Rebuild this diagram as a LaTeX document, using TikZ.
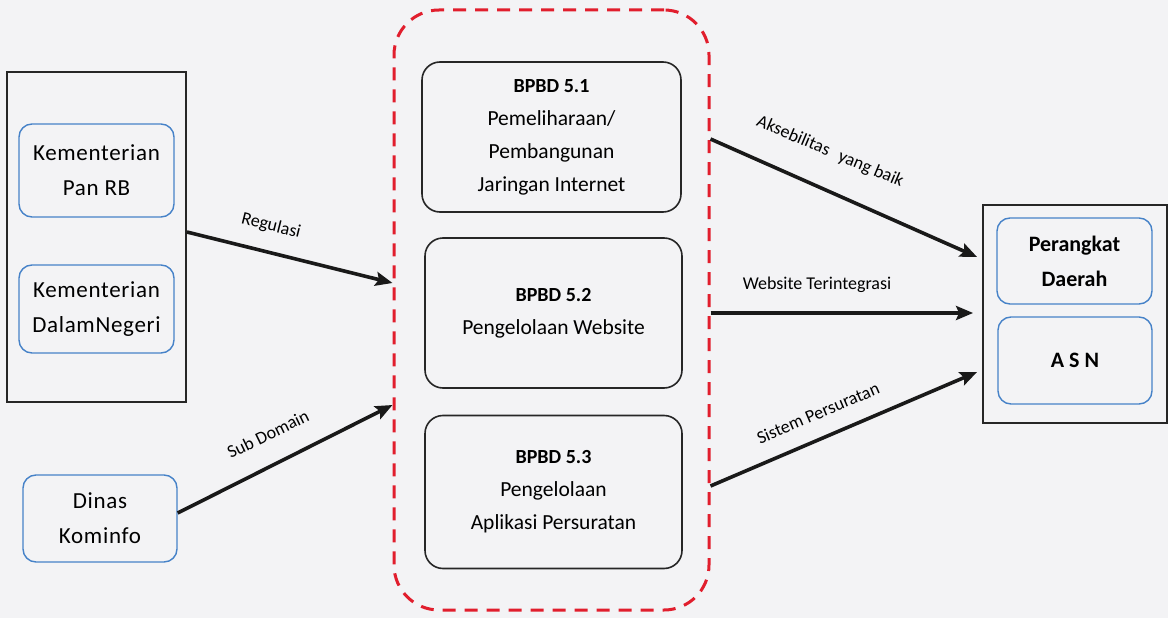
\documentclass[tikz,border=0pt]{standalone}
\usepackage{fontspec}
\setmainfont{Carlito}
\usetikzlibrary{arrows.meta}
\definecolor{bgc}{RGB}{243,243,245}
\definecolor{bluec}{RGB}{70,130,200}
\definecolor{redc}{RGB}{225,30,45}
\tikzset{
  outerbox/.style={draw=black!85,line width=1.8pt,rectangle},
  bluebox/.style={draw=bluec,line width=1.4pt,rounded corners=13pt,rectangle,align=center,
    font=\fontsize{23}{35}\selectfont\addfontfeature{LetterSpace=3}},
  bpbdbox/.style={draw=black!85,line width=1.6pt,rounded corners=18pt,rectangle,align=center,
    font=\fontsize{21.5}{33}\selectfont},
  groupbox/.style={draw=redc,line width=3pt,dash pattern=on 13pt off 9pt,rounded corners=45pt,rectangle},
  conn/.style={line width=3.6pt,black!90,-{Stealth[length=17pt,width=14pt,inset=3pt]}},
  lbl/.style={font=\fontsize{18}{20}\selectfont,inner sep=0pt}
}
\newcommand{\bhead}[1]{{\bfseries\fontsize{20}{33}\selectfont #1}}
\begin{document}
\begin{tikzpicture}[x=1pt,y=-1pt]
\fill[bgc] (0,0) rectangle (1168,618);
\useasboundingbox (0,0) rectangle (1168,618);

% left group
\node[outerbox,minimum width=179pt,minimum height=330pt] (L) at (96.5,237) {};
\node[bluebox,minimum width=155pt,minimum height=93pt] (K1) at (96.5,170.5) {Kementerian\\Pan RB};
\node[bluebox,minimum width=155pt,minimum height=88pt] (K2) at (96.5,309) {Kementerian\\DalamNegeri};
\node[bluebox,minimum width=154pt,minimum height=87pt] (D) at (100,518.5) {Dinas\\Kominfo};

% middle group
\node[groupbox,minimum width=315pt,minimum height=600pt] (G) at (551.5,310) {};
\node[bpbdbox,minimum width=259pt,minimum height=150pt] (B1) at (551.5,137) {\bhead{BPBD 5.1}\\Pemeliharaan/\\Pembangunan\\Jaringan Internet};
\node[bpbdbox,minimum width=257pt,minimum height=150pt] (B2) at (553.5,313) {\bhead{BPBD 5.2}\\Pengelolaan Website};
\node[bpbdbox,minimum width=257pt,minimum height=153pt,text depth=4pt] (B3) at (553.5,492) {\bhead{BPBD 5.3}\\Pengelolaan\\Aplikasi Persuratan};

% right group
\node[outerbox,minimum width=184pt,minimum height=218pt] (R) at (1075,314) {};
\node[bluebox,minimum width=155pt,minimum height=86pt,font=\bfseries\fontsize{22}{35}\selectfont] (PD) at (1074.5,261) {Perangkat\\Daerah};
\node[bluebox,minimum width=154pt,minimum height=87pt,font=\bfseries\fontsize{22}{35}\selectfont] (ASN) at (1075,360.5) {A S N};

% connector end points on node borders
\coordinate (c1) at (L.east |- 0,232);
\coordinate (c2) at (G.west |- 0,283);
\coordinate (c3) at (D.east |- 0,513);
\coordinate (c4) at (G.west |- 0,405);
\coordinate (c5) at (G.east |- 0,139);
\coordinate (c6) at ([xshift=-5pt]R.west |- 0,257);
\coordinate (c7) at (G.east |- 0,313);
\coordinate (c8) at ([xshift=-9pt]R.west |- 0,313);
\coordinate (c9) at (G.east |- 0,486);
\coordinate (c10) at ([xshift=-5pt]R.west |- 0,372);

\draw[conn] (c1) -- (c2);
\draw[conn] (c3) -- (c4);
\draw[conn] (c5) -- (c6);
\draw[conn] (c7) -- (c8);
\draw[conn] (c9) -- (c10);

% labels
\node[lbl,rotate=-14] (lr) at (271,226) {Regulasi};
\node[lbl,rotate=26] (ls) at (268,434) {Sub Domain};
\node[lbl,rotate=-23] (la) at (830,152) {Aksebilitas\hspace{0.6em}yang baik};
\node[lbl] (lw) at (817,285) {Website Terintegrasi};
\node[lbl,rotate=23] (lp) at (818,413) {Sistem Persuratan};
\end{tikzpicture}
\end{document}
